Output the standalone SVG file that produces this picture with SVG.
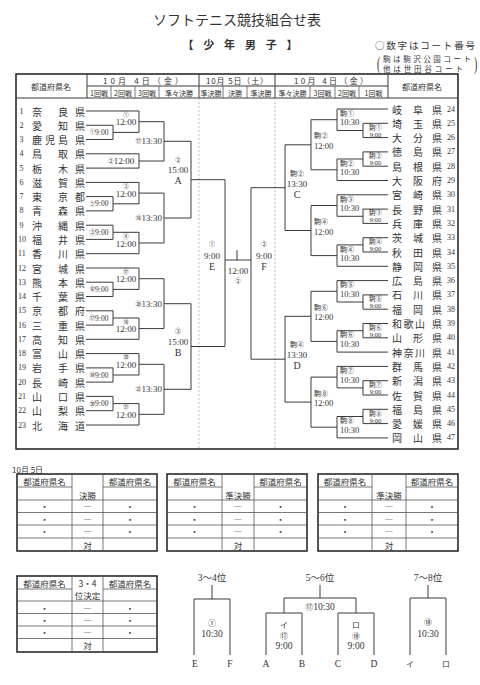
<svg xmlns="http://www.w3.org/2000/svg" width="480" height="685" viewBox="0 0 480 685">
<style>
.t{font-family:'Liberation Serif','Noto Sans CJK JP',serif;fill:#333}
.j{font-family:'Noto Sans CJK JP',sans-serif;fill:#333}
.c{text-anchor:middle}
.m{dominant-baseline:central}
.nm{font-size:10px;text-anchor:middle;dominant-baseline:central}
.no{font-size:8px;dominant-baseline:central}
.ln{stroke:#3a3a3a;stroke-width:1;fill:none}
.bd{stroke:#2a2a2a;stroke-width:1.6;fill:none}
.th{stroke:#555;stroke-width:0.8;fill:none}
.dt{stroke:#aaa;stroke-width:0.8;stroke-dasharray:2 2;fill:none}
.s9{font-size:9px}
.s8{font-size:8px}
.s7{font-size:7px}
.s6{font-size:6px}
</style>
<rect width="480" height="685" fill="#fff"/>
<!-- title -->
<text class="j c" x="237" y="25" font-size="14">ソフトテニス競技組合せ表</text>
<text class="j c" x="240" y="49" font-size="11" font-weight="bold" textLength="115" lengthAdjust="spacing">【 少 年 男 子 】</text>
<text class="j" x="375" y="49" font-size="9.5" textLength="100" lengthAdjust="spacing">○数字はコート番号</text>
<text class="t" font-size="10" transform="translate(377,70) scale(1,1.9)">(</text>
<text class="t" font-size="10" transform="translate(474,70) scale(1,1.9)">)</text>
<text class="j" x="383" y="61.5" font-size="7.5" textLength="88" lengthAdjust="spacing">駒は駒沢公園コート</text>
<text class="j" x="383" y="71.5" font-size="7.5" textLength="80" lengthAdjust="spacing">他は世田谷コート</text>

<!-- main table frame -->
<g id="main-table">
<rect class="bd" x="16" y="74" width="442" height="375"/>
<path class="ln" d="M16,98H458M87,74V98M388,74V98M87,86H388M199,74V98M275,74V98"/>
<path class="th" d="M111,86V98M135,86V98M159,86V98M223,86V98M247,86V98M310,86V98M335,86V98M359,86V98"/>
<path class="dt" d="M199,98V449M275,98V449"/>
<text class="j c m s8" x="51" y="86">都道府県名</text>
<text class="j c m s8" x="422" y="86">都道府県名</text>
<text class="j c m" x="143" y="80" font-size="8" textLength="80" lengthAdjust="spacing">10月 4日（金）</text>
<text class="j c m" x="237" y="80" font-size="8" textLength="62" lengthAdjust="spacing">10月 5日（土）</text>
<text class="j c m" x="331" y="80" font-size="8" textLength="74" lengthAdjust="spacing">10月 4日（金）</text>
<g class="j c m s7">
<text x="99" y="92.5">1回戦</text><text x="123" y="92.5">2回戦</text><text x="147" y="92.5">3回戦</text><text x="179" y="92.5">準々決勝</text>
<text x="211" y="92.5">準決勝</text><text x="235" y="92.5">決勝</text><text x="261" y="92.5">準決勝</text>
<text x="292.5" y="92.5">準々決勝</text><text x="322.5" y="92.5">3回戦</text><text x="347" y="92.5">2回戦</text><text x="373.5" y="92.5">1回戦</text>
</g>
</g>

<!-- left teams -->
<g id="team-1"><text class="t no" x="19.5" y="111">1</text><text class="j nm" x="37 63 80" y="111">奈良県</text></g>
<g id="team-2"><text class="t no" x="19.5" y="125.3">2</text><text class="j nm" x="37 63 80" y="125.3">愛知県</text></g>
<g id="team-3"><text class="t no" x="19.5" y="139.5">3</text><text class="j nm" x="37 50 63 80" y="139.5">鹿児島県</text></g>
<g id="team-4"><text class="t no" x="19.5" y="153.8">4</text><text class="j nm" x="37 63 80" y="153.8">鳥取県</text></g>
<g id="team-5"><text class="t no" x="19.5" y="168.1">5</text><text class="j nm" x="37 63 80" y="168.1">栃木県</text></g>
<g id="team-6"><text class="t no" x="19.5" y="182.4">6</text><text class="j nm" x="37 63 80" y="182.4">滋賀県</text></g>
<g id="team-7"><text class="t no" x="19.5" y="196.6">7</text><text class="j nm" x="37 63 80" y="196.6">東京都</text></g>
<g id="team-8"><text class="t no" x="19.5" y="210.9">8</text><text class="j nm" x="37 63 80" y="210.9">青森県</text></g>
<g id="team-9"><text class="t no" x="19.5" y="225.2">9</text><text class="j nm" x="37 63 80" y="225.2">沖縄県</text></g>
<g id="team-10"><text class="t no" x="18" y="239.4">10</text><text class="j nm" x="37 63 80" y="239.4">福井県</text></g>
<g id="team-11"><text class="t no" x="18" y="253.7">11</text><text class="j nm" x="37 63 80" y="253.7">香川県</text></g>
<g id="team-12"><text class="t no" x="18" y="268">12</text><text class="j nm" x="37 63 80" y="268">宮城県</text></g>
<g id="team-13"><text class="t no" x="18" y="282.2">13</text><text class="j nm" x="37 63 80" y="282.2">熊本県</text></g>
<g id="team-14"><text class="t no" x="18" y="296.5">14</text><text class="j nm" x="37 63 80" y="296.5">千葉県</text></g>
<g id="team-15"><text class="t no" x="18" y="310.8">15</text><text class="j nm" x="37 63 80" y="310.8">京都府</text></g>
<g id="team-16"><text class="t no" x="18" y="325.1">16</text><text class="j nm" x="37 63 80" y="325.1">三重県</text></g>
<g id="team-17"><text class="t no" x="18" y="339.3">17</text><text class="j nm" x="37 63 80" y="339.3">高知県</text></g>
<g id="team-18"><text class="t no" x="18" y="353.6">18</text><text class="j nm" x="37 63 80" y="353.6">富山県</text></g>
<g id="team-19"><text class="t no" x="18" y="367.9">19</text><text class="j nm" x="37 63 80" y="367.9">岩手県</text></g>
<g id="team-20"><text class="t no" x="18" y="382.1">20</text><text class="j nm" x="37 63 80" y="382.1">長崎県</text></g>
<g id="team-21"><text class="t no" x="18" y="396.4">21</text><text class="j nm" x="37 63 80" y="396.4">山口県</text></g>
<g id="team-22"><text class="t no" x="18" y="410.7">22</text><text class="j nm" x="37 63 80" y="410.7">山梨県</text></g>
<g id="team-23"><text class="t no" x="18" y="425">23</text><text class="j nm" x="37 63 80" y="425">北海道</text></g>

<!-- right teams -->
<g id="team-24"><text class="j nm" x="397 418 437" y="109">岐阜県</text><text class="t no" x="447" y="109">24</text></g>
<g id="team-25"><text class="j nm" x="397 418 437" y="123.3">埼玉県</text><text class="t no" x="447" y="123.3">25</text></g>
<g id="team-26"><text class="j nm" x="397 418 437" y="137.6">大分県</text><text class="t no" x="447" y="137.6">26</text></g>
<g id="team-27"><text class="j nm" x="397 418 437" y="151.9">徳島県</text><text class="t no" x="447" y="151.9">27</text></g>
<g id="team-28"><text class="j nm" x="397 418 437" y="166.2">島根県</text><text class="t no" x="447" y="166.2">28</text></g>
<g id="team-29"><text class="j nm" x="397 418 437" y="180.5">大阪府</text><text class="t no" x="447" y="180.5">29</text></g>
<g id="team-30"><text class="j nm" x="397 418 437" y="194.8">宮崎県</text><text class="t no" x="447" y="194.8">30</text></g>
<g id="team-31"><text class="j nm" x="397 418 437" y="209.1">長野県</text><text class="t no" x="447" y="209.1">31</text></g>
<g id="team-32"><text class="j nm" x="397 418 437" y="223.4">兵庫県</text><text class="t no" x="447" y="223.4">32</text></g>
<g id="team-33"><text class="j nm" x="397 418 437" y="237.7">茨城県</text><text class="t no" x="447" y="237.7">33</text></g>
<g id="team-34"><text class="j nm" x="397 418 437" y="252">秋田県</text><text class="t no" x="447" y="252">34</text></g>
<g id="team-35"><text class="j nm" x="397 418 437" y="266.3">静岡県</text><text class="t no" x="447" y="266.3">35</text></g>
<g id="team-36"><text class="j nm" x="397 418 437" y="280.6">広島県</text><text class="t no" x="447" y="280.6">36</text></g>
<g id="team-37"><text class="j nm" x="397 418 437" y="294.9">石川県</text><text class="t no" x="447" y="294.9">37</text></g>
<g id="team-38"><text class="j nm" x="397 418 437" y="309.2">福岡県</text><text class="t no" x="447" y="309.2">38</text></g>
<g id="team-39"><text class="j nm" x="397 408.5 420 437" y="323.5">和歌山県</text><text class="t no" x="447" y="323.5">39</text></g>
<g id="team-40"><text class="j nm" x="397 418 437" y="337.8">山形県</text><text class="t no" x="447" y="337.8">40</text></g>
<g id="team-41"><text class="j nm" x="397 408.5 420 437" y="352.1">神奈川県</text><text class="t no" x="447" y="352.1">41</text></g>
<g id="team-42"><text class="j nm" x="397 418 437" y="366.4">群馬県</text><text class="t no" x="447" y="366.4">42</text></g>
<g id="team-43"><text class="j nm" x="397 418 437" y="380.7">新潟県</text><text class="t no" x="447" y="380.7">43</text></g>
<g id="team-44"><text class="j nm" x="397 418 437" y="395">佐賀県</text><text class="t no" x="447" y="395">44</text></g>
<g id="team-45"><text class="j nm" x="397 418 437" y="409.3">福島県</text><text class="t no" x="447" y="409.3">45</text></g>
<g id="team-46"><text class="j nm" x="397 418 437" y="423.6">愛媛県</text><text class="t no" x="447" y="423.6">46</text></g>
<g id="team-47"><text class="j nm" x="397 418 437" y="437.9">岡山県</text><text class="t no" x="447" y="437.9">47</text></g>

<!-- connectors -->
<g id="connectors" class="ln">
<path d="M86,125.3H113V139.5H86"/>
<path d="M86,111H139V132.4H113"/>
<path d="M86,153.8H139V168.1H86"/>
<path d="M139,121.7H164V161H139"/>
<path d="M86,196.6H113V210.9H86"/>
<path d="M86,182.4H139V203.8H113"/>
<path d="M86,225.2H113V239.4H86"/>
<path d="M113,232.3H139V253.7H86"/>
<path d="M139,193.1H164V243H139"/>
<path d="M164,141.3H191V218H164M191,179.7H225"/>
<path d="M86,282.2H113V296.5H86"/>
<path d="M86,268H139V289.4H113"/>
<path d="M86,310.8H113V325.1H86"/>
<path d="M113,318H139V339.3H86"/>
<path d="M139,278.7H164V328.6H139"/>
<path d="M86,367.9H113V382.1H86"/>
<path d="M86,353.6H139V375H113"/>
<path d="M86,396.4H113V410.7H86"/>
<path d="M113,403.6H139V425H86"/>
<path d="M139,364.3H164V414.3H139"/>
<path d="M164,303.7H191V389.3H164M191,346.5H225"/>
<path d="M225,179.7V346.5M225,260H251M237,250V260"/>
<path d="M388,123.3H363V137.6H388"/>
<path d="M388,109H337V130.5H363"/>
<path d="M388,151.9H363V166.2H388"/>
<path d="M363,159H337V180.5H388"/>
<path d="M337,119.7H311V169.8H337"/>
<path d="M388,209.1H363V223.4H388"/>
<path d="M388,194.8H337V216.3H363"/>
<path d="M388,237.7H363V252H388"/>
<path d="M363,244.9H337V266.3H388"/>
<path d="M337,205.5H311V255.6H337"/>
<path d="M311,144.8H285V230.5H311M285,187.7H251"/>
<path d="M388,294.9H363V309.2H388"/>
<path d="M388,280.6H337V302H363"/>
<path d="M388,323.5H363V337.8H388"/>
<path d="M363,330.7H337V352.1H388"/>
<path d="M337,291.3H311V341.4H337"/>
<path d="M388,380.7H363V395H388"/>
<path d="M388,366.4H337V387.9H363"/>
<path d="M388,409.3H363V423.6H388"/>
<path d="M363,416.5H337V437.9H388"/>
<path d="M337,377.1H311V427.2H337"/>
<path d="M311,316.3H285V402.1H311M285,359.2H251"/>
<path d="M251,187.7V359.2"/>
</g>

<!-- left match labels -->
<g class="t c m" font-size="7.5">
<text x="99" y="132.4"><tspan font-size="5.5">①</tspan>9:00</text>
<text x="99" y="203.8"><tspan font-size="5.5">②</tspan>9:00</text>
<text x="99" y="232.3"><tspan font-size="5.5">③</tspan>9:00</text>
<text x="99" y="289.4"><tspan font-size="5.5">⑯</tspan>9:00</text>
<text x="99" y="318"><tspan font-size="5.5">⑰</tspan>9:00</text>
<text x="99" y="375"><tspan font-size="5.5">⑱</tspan>9:00</text>
<text x="99" y="403.6"><tspan font-size="5.5">⑳</tspan>9:00</text>
</g>
<g class="t c m" font-size="9">
<text x="126" y="114.7" font-size="5.5">①</text><text x="126" y="122.2">12:00</text>
<text x="121" y="161"><tspan font-size="6">②</tspan>12:00</text>
<text x="126" y="186.1" font-size="5.5">③</text><text x="126" y="193.6">12:00</text>
<text x="126" y="236" font-size="5.5">④</text><text x="126" y="243.5">12:00</text>
<text x="126" y="271.7" font-size="5.5">⑰</text><text x="126" y="279.2">12:00</text>
<text x="126" y="321.6" font-size="5.5">⑱</text><text x="126" y="329.1">12:00</text>
<text x="126" y="357.3" font-size="5.5">⑳</text><text x="126" y="364.8">12:00</text>
<text x="126" y="407.3" font-size="5.5">㉑</text><text x="126" y="414.8">12:00</text>
</g>
<g class="t m" font-size="9" text-anchor="end">
<text x="162" y="141.3"><tspan font-size="6">⑰</tspan>13:30</text>
<text x="162" y="218"><tspan font-size="6">⑱</tspan>13:30</text>
<text x="162" y="303.7"><tspan font-size="6">⑳</tspan>13:30</text>
<text x="162" y="389.3"><tspan font-size="6">㉑</tspan>13:30</text>
</g>
<g id="match-A" class="t c m" font-size="9"><text x="178" y="160" font-size="6">②</text><text x="178" y="170">15:00</text><text x="178" y="180" font-size="10">A</text></g>
<g id="match-B" class="t c m" font-size="9"><text x="178" y="331" font-size="6">③</text><text x="178" y="342">15:00</text><text x="178" y="352" font-size="10">B</text></g>
<g id="match-E" class="t c m" font-size="9"><text x="212" y="244" font-size="6">①</text><text x="212" y="256">9:00</text><text x="212" y="266" font-size="10">E</text></g>
<g id="match-F" class="t c m" font-size="9"><text x="264" y="244" font-size="6">②</text><text x="264" y="256">9:00</text><text x="264" y="266" font-size="10">F</text></g>
<g id="match-final" class="t c m" font-size="9"><text x="238" y="271">12:00</text><text x="238" y="281" font-size="6">②</text></g>

<!-- right match labels -->
<g class="t c m" font-size="6.5">
<text x="375.5" y="127">駒①</text><text x="375.5" y="134">9:00</text>
<text x="375.5" y="155.5">駒②</text><text x="375.5" y="162.5">9:00</text>
<text x="375.5" y="212.8">駒③</text><text x="375.5" y="219.8">9:00</text>
<text x="375.5" y="241.4">駒④</text><text x="375.5" y="248.4">9:00</text>
<text x="375.5" y="298.5">駒⑤</text><text x="375.5" y="305.5">9:00</text>
<text x="375.5" y="327.2">駒⑥</text><text x="375.5" y="334.2">9:00</text>
<text x="375.5" y="384.4">駒⑦</text><text x="375.5" y="391.4">9:00</text>
<text x="375.5" y="413">駒⑧</text><text x="375.5" y="420">9:00</text>
</g>
<g class="t m" font-size="8.5">
<text x="340" y="113.7" font-size="7">駒①</text><text x="340" y="122.2">10:30</text>
<text x="340" y="163.8" font-size="7">駒②</text><text x="340" y="172.3">10:30</text>
<text x="340" y="199.5" font-size="7">駒③</text><text x="340" y="208">10:30</text>
<text x="340" y="249.6" font-size="7">駒④</text><text x="340" y="258.1">10:30</text>
<text x="340" y="285.3" font-size="7">駒⑤</text><text x="340" y="293.8">10:30</text>
<text x="340" y="335.4" font-size="7">駒⑥</text><text x="340" y="343.9">10:30</text>
<text x="340" y="371.1" font-size="7">駒⑦</text><text x="340" y="379.6">10:30</text>
<text x="340" y="421.2" font-size="7">駒⑧</text><text x="340" y="429.7">10:30</text>
<text x="314" y="136.3" font-size="7">駒②</text><text x="314" y="145.8">12:00</text>
<text x="314" y="222" font-size="7">駒④</text><text x="314" y="231.5">12:00</text>
<text x="314" y="307.8" font-size="7">駒⑥</text><text x="314" y="317.3">12:00</text>
<text x="314" y="393.6" font-size="7">駒⑧</text><text x="314" y="403.1">12:00</text>
</g>
<g id="match-C" class="t c m" font-size="9"><text x="297" y="174" font-size="7">駒②</text><text x="297" y="184">13:30</text><text x="297" y="194" font-size="10">C</text></g>
<g id="match-D" class="t c m" font-size="9"><text x="297" y="345" font-size="7">駒④</text><text x="297" y="355">13:30</text><text x="297" y="365" font-size="10">D</text></g>

<!-- bottom tables -->
<text class="j" x="12" y="472.5" font-size="8">10月 5日</text>
<g id="table-final">
<rect class="bd" x="17" y="474" width="140" height="77"/>
<path class="th" d="M72,474V551M103,474V551M17,487H72M103,487H157M17,500H157M17,512.5H157M17,525H157M17,538H157"/>
<g class="j c m" font-size="8.5"><text x="44.5" y="481">都道府県名</text><text x="130" y="481">都道府県名</text><text x="87.5" y="495">決勝</text>
<text x="44.5" y="506">・</text><text x="87.5" y="506">―</text><text x="130" y="506">・</text>
<text x="44.5" y="518.5">・</text><text x="87.5" y="518.5">―</text><text x="130" y="518.5">・</text>
<text x="44.5" y="531">・</text><text x="87.5" y="531">―</text><text x="130" y="531">・</text>
<text x="87.5" y="544.5">対</text></g>
</g>
<g id="table-semi1">
<rect class="bd" x="167" y="474" width="140" height="77"/>
<path class="th" d="M222,474V551M254,474V551M167,487H222M254,487H307M167,500H307M167,512.5H307M167,525H307M167,538H307"/>
<g class="j c m" font-size="8.5"><text x="194.5" y="481">都道府県名</text><text x="280.5" y="481">都道府県名</text><text x="238" y="495">準決勝</text>
<text x="194.5" y="506">・</text><text x="238" y="506">―</text><text x="280.5" y="506">・</text>
<text x="194.5" y="518.5">・</text><text x="238" y="518.5">―</text><text x="280.5" y="518.5">・</text>
<text x="194.5" y="531">・</text><text x="238" y="531">―</text><text x="280.5" y="531">・</text>
<text x="238" y="544.5">対</text></g>
</g>
<g id="table-semi2">
<rect class="bd" x="318" y="474" width="140" height="77"/>
<path class="th" d="M372,474V551M406,474V551M318,487H372M406,487H458M318,500H458M318,512.5H458M318,525H458M318,538H458"/>
<g class="j c m" font-size="8.5"><text x="345" y="481">都道府県名</text><text x="432" y="481">都道府県名</text><text x="389" y="495">準決勝</text>
<text x="345" y="506">・</text><text x="389" y="506">―</text><text x="432" y="506">・</text>
<text x="345" y="518.5">・</text><text x="389" y="518.5">―</text><text x="432" y="518.5">・</text>
<text x="345" y="531">・</text><text x="389" y="531">―</text><text x="432" y="531">・</text>
<text x="389" y="544.5">対</text></g>
</g>
<g id="table-third">
<rect class="bd" x="17" y="576" width="140" height="76"/>
<path class="th" d="M72,576V652M103,576V652M17,589H72M103,589H157M17,601H157M17,613.5H157M17,626H157M17,638.5H157"/>
<g class="j c m" font-size="8.5"><text x="44.5" y="583">都道府県名</text><text x="130" y="583">都道府県名</text><text x="87.5" y="582.5">3・4</text><text x="87.5" y="595">位決定</text>
<text x="44.5" y="607.5">・</text><text x="87.5" y="607.5">―</text><text x="130" y="607.5">・</text>
<text x="44.5" y="620">・</text><text x="87.5" y="620">―</text><text x="130" y="620">・</text>
<text x="44.5" y="632">・</text><text x="87.5" y="632">―</text><text x="130" y="632">・</text>
<text x="87.5" y="645">対</text></g>
</g>

<!-- placement brackets -->
<g id="bracket-34" >
<path class="ln" d="M212,585V599M194,655V599H230V655"/>
<g class="t c m" font-size="9.5"><text x="212" y="578">3〜4位</text><text x="212" y="623" font-size="8">①</text><text x="212" y="634">10:30</text><text x="195" y="664">E</text><text x="230" y="664">F</text></g>
</g>
<g id="bracket-56">
<path class="ln" d="M320,585V598M284,613V598H356V613M266,655V613H302V655M338,655V613H374V655"/>
<g class="t c m" font-size="9.5"><text x="320" y="607"><tspan font-size="8">⑰</tspan>10:30</text><text x="320" y="578">5〜6位</text>
<text x="284" y="625" font-size="8">イ</text><text x="284" y="636" font-size="8">⑰</text><text x="284" y="646">9:00</text>
<text x="356" y="625" font-size="8">ロ</text><text x="356" y="636" font-size="8">⑱</text><text x="356" y="646">9:00</text>
<text x="266" y="664">A</text><text x="302" y="664">B</text><text x="338" y="664">C</text><text x="374" y="664">D</text></g>
</g>
<g id="bracket-78">
<path class="ln" d="M428,585V598M410,655V598H446V655"/>
<g class="t c m" font-size="9.5"><text x="428" y="578">7〜8位</text><text x="428" y="622" font-size="8">⑱</text><text x="428" y="634">10:30</text><text x="410" y="664" font-size="8">イ</text><text x="446" y="664" font-size="8">ロ</text></g>
</g>
</svg>
